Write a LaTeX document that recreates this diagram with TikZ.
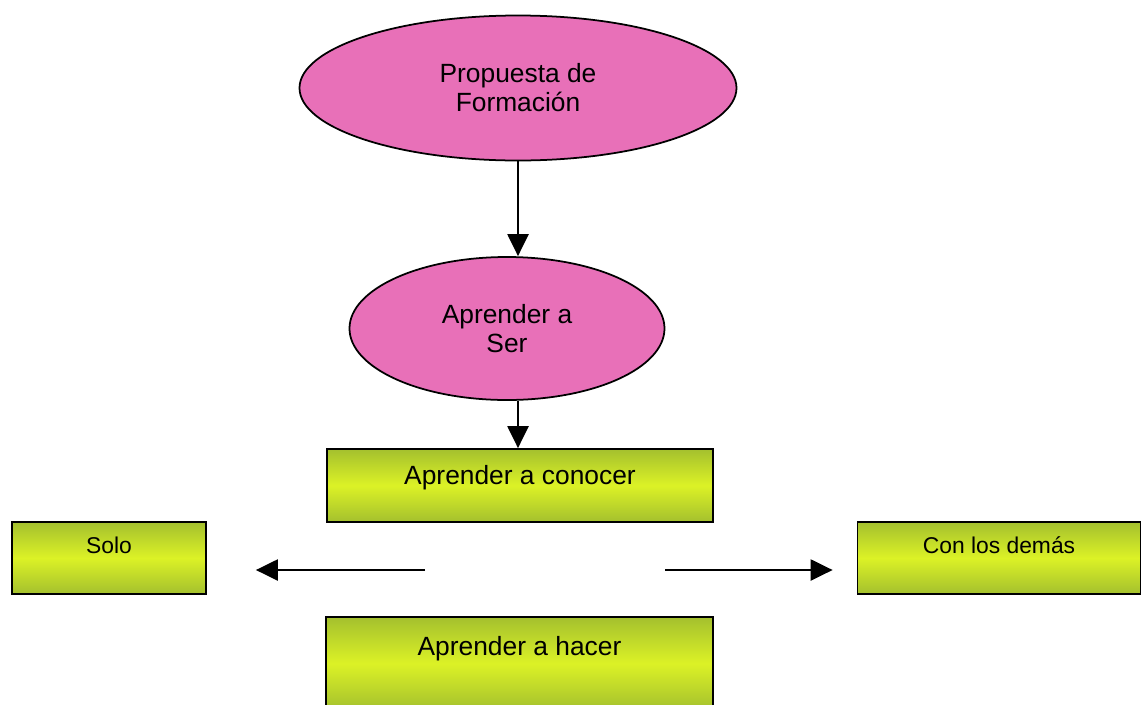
\documentclass[tikz,border=0pt]{standalone}
\usepackage{fontspec}
\setmainfont{Liberation Sans}
\usetikzlibrary{shapes.geometric,arrows.meta,calc}

\definecolor{pinkfill}{RGB}{232,112,184}
\definecolor{limemid}{RGB}{220,242,38}
\definecolor{limeedge}{RGB}{164,192,46}

\begin{document}
\begin{tikzpicture}[
    idea/.style={ellipse, draw, line width=1pt, fill=pinkfill, inner sep=0pt, align=center, font=\fontsize{15}{16.5}\selectfont},
    task/.style={rectangle, draw, line width=1pt, top color=limeedge, bottom color=limeedge, middle color=limemid, inner sep=0pt, text height=0.7cm, text depth=0.76cm, font=\fontsize{15}{18}\selectfont},
    side/.style={task, font=\fontsize{13}{16}\selectfont, text height=0.62cm, text depth=0.82cm},
    link/.style={-{Triangle[length=0.44cm,width=0.42cm]}, line width=1.3pt}
  ]
      \useasboundingbox (0, 0) rectangle (22.86, -14.08);
      \node [idea, minimum width=8.74cm, minimum height=2.9cm] (propuesta) at (10.36, -1.76) {Propuesta de\\Formación};
      \node [idea, minimum width=6.3cm, minimum height=2.86cm] (ser) at (10.14, -6.57) {Aprender a\\Ser};
      \node [task, minimum width=7.72cm] (conocer) at (10.4, -9.71) {Aprender a conocer};
      \node [side, minimum width=3.88cm] (solo) at (2.18, -11.16) {Solo};
      \node [side, minimum width=5.66cm] (demas) at (19.98, -11.16) {Con los demás};
      \node [task, minimum width=7.74cm, minimum height=1.86cm, text height=0.76cm, text depth=1.1cm] (hacer) at (10.39, -13.27) {Aprender a hacer};
      \coordinate (soloTail) at (8.5, -11.4);
      \coordinate (demasTail) at (13.3, -11.4);
      \draw [link] (propuesta.south) -- (propuesta.south |- ser.north);
      \draw [link] (propuesta.south |- ser.south) -- (propuesta.south |- conocer.north);
      \draw [link, shorten >=0.98cm] (soloTail) -- (soloTail -| solo.east);
      \draw [link, shorten >=0.48cm] (demasTail) -- (demasTail -| demas.west);
    \end{tikzpicture}
\end{document}
